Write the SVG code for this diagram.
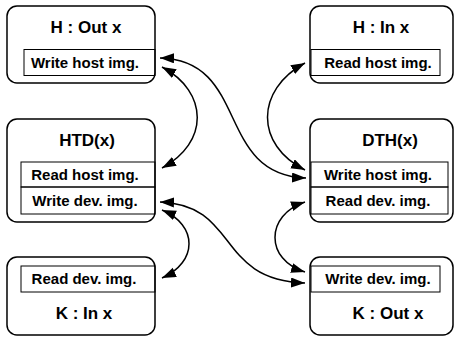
<svg xmlns="http://www.w3.org/2000/svg" width="455" height="338" viewBox="0 0 455 338">
  <style>
    .box { fill: #fff; stroke: #000; stroke-width: 1.5; }
    .slot { fill: none; stroke: #000; stroke-width: 1; }
    .title { font-family: "Liberation Sans", Arial, sans-serif; font-weight: bold; font-size: 17px; text-anchor: middle; fill: #000; }
    .label { font-family: "Liberation Sans", Arial, sans-serif; font-weight: bold; font-size: 15px; text-anchor: middle; fill: #000; }
    .link { fill: none; stroke: #000; stroke-width: 1.5; marker-start: url(#head); marker-end: url(#head); }
  </style>
  <defs>
    <marker id="head" markerUnits="userSpaceOnUse" markerWidth="16" markerHeight="12" refX="14" refY="5" orient="auto-start-reverse">
      <path d="M0,0 L14,5 L0,10 z" fill="#000"/>
    </marker>
  </defs>

  <!-- host output -->
  <g id="h-out">
    <rect class="box" x="7" y="6" width="148" height="77" rx="10"/>
    <text class="title" x="86" y="33">H : Out x</text>
    <rect class="slot" x="24" y="49.5" width="131" height="26"/>
    <text class="label" x="85" y="68">Write host img.</text>
  </g>

  <!-- host input -->
  <g id="h-in">
    <rect class="box" x="310" y="6" width="143" height="77" rx="10"/>
    <text class="title" x="381" y="33">H : In x</text>
    <rect class="slot" x="311" y="49.5" width="129" height="26"/>
    <text class="label" x="378" y="68">Read host img.</text>
  </g>

  <!-- host to device transfer -->
  <g id="htd">
    <rect class="box" x="7" y="119" width="148" height="103" rx="10"/>
    <text class="title" x="87" y="146">HTD(x)</text>
    <rect class="slot" x="21" y="162" width="134" height="25"/>
    <text class="label" x="85" y="180">Read host img.</text>
    <rect class="slot" x="21" y="187" width="134" height="27"/>
    <text class="label" x="85" y="206">Write dev. img.</text>
  </g>

  <!-- device to host transfer -->
  <g id="dth">
    <rect class="box" x="310" y="119" width="143" height="103" rx="10"/>
    <text class="title" x="390" y="146">DTH(x)</text>
    <rect class="slot" x="311" y="162" width="137" height="25"/>
    <text class="label" x="378" y="180">Write host img.</text>
    <rect class="slot" x="311" y="187" width="137" height="27"/>
    <text class="label" x="378" y="206">Read dev. img.</text>
  </g>

  <!-- kernel input -->
  <g id="k-in">
    <rect class="box" x="7" y="257" width="148" height="78" rx="10"/>
    <rect class="slot" x="21" y="266" width="134" height="26"/>
    <text class="label" x="84" y="284">Read dev. img.</text>
    <text class="title" x="84" y="319">K : In x</text>
  </g>

  <!-- kernel output -->
  <g id="k-out">
    <rect class="box" x="310" y="257" width="143" height="78" rx="10"/>
    <rect class="slot" x="311" y="266" width="129" height="26"/>
    <text class="label" x="378" y="284">Write dev. img.</text>
    <text class="title" x="388" y="319">K : Out x</text>
  </g>

  <!-- image dependencies -->
  <g id="links">
    <path class="link" d="M160,58 C250,60 215,175 306,178"/>
    <path class="link" d="M162,67 C209,92 209,143 162,168"/>
    <path class="link" d="M305,63 C255,90 255,145 305,170"/>
    <path class="link" d="M160,202 C240,205 215,280 305,283"/>
    <path class="link" d="M162,210 C198,225 198,262 162,278"/>
    <path class="link" d="M305,202 C265,215 265,260 305,272"/>
  </g>
</svg>
